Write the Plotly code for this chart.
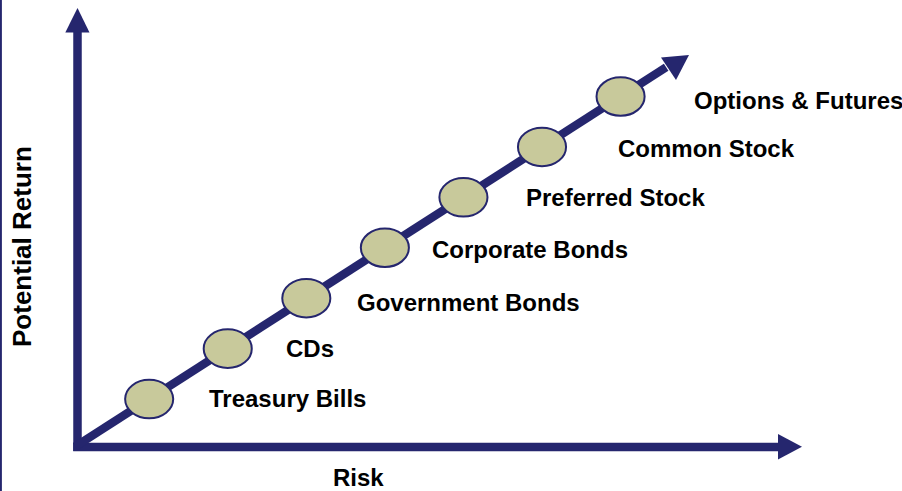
import plotly.graph_objects as go

# ---- data ----
categories = ["Treasury Bills", "CDs", "Government Bonds", "Corporate Bonds",
              "Preferred Stock", "Common Stock", "Options & Futures"]
risk_rank = [1, 2, 3, 4, 5, 6, 7]
return_rank = [1, 2, 3, 4, 5, 6, 7]
x_title = "Risk"
y_title = "Potential Return"

# ---- styling ----
W, H = 902, 491
NAVY = "#25266E"
FILL = "#C8C99B"
FONT = "Arial, Liberation Sans, sans-serif"
label_xshift = [58, 56, 49, 45, 61, 74, 71]
label_yshift = [1, 0, -4, -2, 0, -2, -4]
ell_rx, ell_ry = 0.306, 0.382  # ellipse half-size in axis units

X_RANGE = [-0.8986, 10.582]
Y_RANGE = [-0.823, 8.913]


def px(x, y):
    """pixel -> paper coordinates (margins are zero)."""
    return x / W, 1 - y / H


def tri(p1, p2, p3):
    a, b, c = px(*p1), px(*p2), px(*p3)
    return (f"M {a[0]},{a[1]} L {b[0]},{b[1]} L {c[0]},{c[1]} Z")


fig = go.Figure()
fig.add_trace(go.Scatter(x=risk_rank, y=return_rank, mode="markers",
                         marker=dict(size=1, opacity=0), text=categories,
                         hoverinfo="text", showlegend=False))

shapes = []
# left border
shapes.append(dict(type="line", xref="paper", yref="paper", x0=0.001, x1=0.001,
                   y0=0, y1=1, line=dict(color=NAVY, width=2)))
# vertical axis arrow
x0, y0 = px(77.5, 32)
x1, y1 = px(77.5, 451)
shapes.append(dict(type="line", xref="paper", yref="paper", x0=x0, y0=y0, x1=x1, y1=y1,
                   line=dict(color=NAVY, width=8.5)))
shapes.append(dict(type="path", xref="paper", yref="paper",
                   path=tri((77.5, 8), (65.3, 32.5), (89.5, 32.5)),
                   fillcolor=NAVY, line=dict(width=0)))
# horizontal axis arrow
x0, y0 = px(73.2, 447)
x1, y1 = px(779, 447)
shapes.append(dict(type="line", xref="paper", yref="paper", x0=x0, y0=y0, x1=x1, y1=y1,
                   line=dict(color=NAVY, width=8.5)))
shapes.append(dict(type="path", xref="paper", yref="paper",
                   path=tri((778, 434), (778, 459.5), (802, 446.7)),
                   fillcolor=NAVY, line=dict(width=0)))
# diagonal arrow (y = x in rank space)
shapes.append(dict(type="line", xref="x", yref="y", x0=0.06, y0=0.06,
                   x1=7.58, y1=7.58, line=dict(color=NAVY, width=8.5)))
shapes.append(dict(type="path", xref="paper", yref="paper",
                   path=tri((689, 55), (661, 57.5), (676, 80)),
                   fillcolor=NAVY, line=dict(width=0)))
# ellipses
for r, t in zip(risk_rank, return_rank):
    shapes.append(dict(type="circle", xref="x", yref="y",
                       x0=r - ell_rx, x1=r + ell_rx, y0=t - ell_ry, y1=t + ell_ry,
                       fillcolor=FILL, line=dict(color=NAVY, width=2)))

annotations = []
for c, r, t, dx, dy in zip(categories, risk_rank, return_rank, label_xshift, label_yshift):
    annotations.append(dict(x=r, y=t, xref="x", yref="y", text=f"<b>{c}</b>",
                            showarrow=False, xanchor="left", yanchor="middle",
                            xshift=dx, yshift=dy,
                            font=dict(family=FONT, size=24, color="black")))
annotations.append(dict(x=358 / W, y=1 - 477 / H, xref="paper", yref="paper",
                        text=f"<b>{x_title}</b>", showarrow=False, borderpad=0,
                        xanchor="center", yanchor="middle",
                        font=dict(family=FONT, size=24, color="black")))
annotations.append(dict(x=22 / W, y=1 - 247 / H, xref="paper", yref="paper",
                        text=f"<b>{y_title}</b>", showarrow=False, textangle=-90,
                        xanchor="center", yanchor="middle",
                        font=dict(family=FONT, size=26, color="black")))

fig.update_layout(
    width=W, height=H, margin=dict(l=0, r=0, t=0, b=0),
    paper_bgcolor="white", plot_bgcolor="white",
    xaxis=dict(range=X_RANGE, visible=False, fixedrange=True),
    yaxis=dict(range=Y_RANGE, visible=False, fixedrange=True),
    shapes=shapes, annotations=annotations, showlegend=False,
)
fig.write_html("out.html", config={"displayModeBar": False},
               post_script="document.body.style.margin='0';document.body.style.overflow='hidden';")
